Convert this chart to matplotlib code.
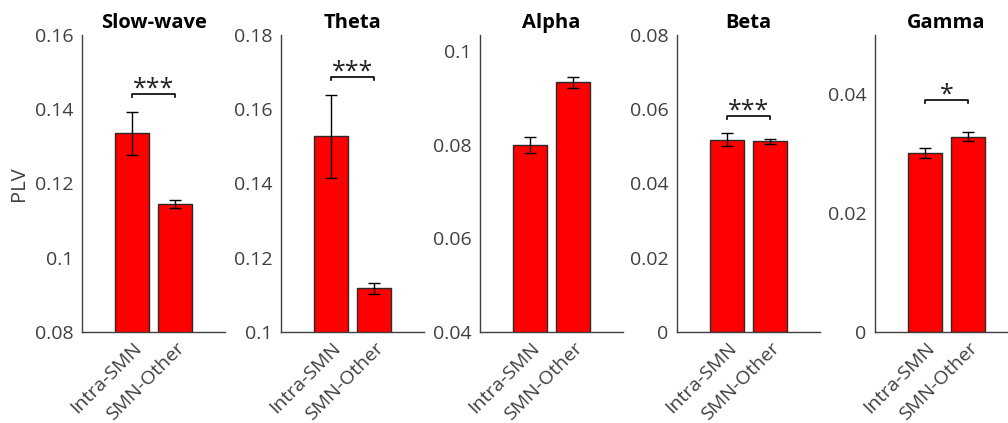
import numpy as np
import matplotlib
matplotlib.use('Agg')
import matplotlib.pyplot as plt

plt.rcParams['font.family'] = ['Open Sans', 'DejaVu Sans']

# 数据
bands = ['Slow-wave', 'Theta', 'Alpha', 'Beta', 'Gamma']
groups = ['Intra-SMN', 'SMN-Other']
intra_mean = [0.1335, 0.1527, 0.0800, 0.0518, 0.0301]
intra_err = [0.0058, 0.0111, 0.0017, 0.0017, 0.0008]
other_mean = [0.1145, 0.1118, 0.0934, 0.0514, 0.0329]
other_err = [0.0011, 0.0015, 0.0012, 0.0007, 0.0008]
ylims = [(0.08, 0.16), (0.1, 0.18), (0.04, 0.1035), (0, 0.08), (0, 0.05)]
yticks = [[0.08, 0.1, 0.12, 0.14, 0.16],
          [0.1, 0.12, 0.14, 0.16, 0.18],
          [0.04, 0.06, 0.08, 0.1],
          [0, 0.02, 0.04, 0.06, 0.08],
          [0, 0.02, 0.04]]
ytick_labels = [['0.08', '0.1', '0.12', '0.14', '0.16'],
                ['0.1', '0.12', '0.14', '0.16', '0.18'],
                ['0.04', '0.06', '0.08', '0.1'],
                ['0', '0.02', '0.04', '0.06', '0.08'],
                ['0', '0.02', '0.04']]
sig_labels = ['***', '***', '', '***', '*']
sig_y = [0.1441, 0.1687, None, 0.0582, 0.0391]

W, H = 1008, 423
fig = plt.figure(figsize=(W / 100, H / 100), dpi=100)
lefts = [82, 281, 480, 677, 875]
grey = '#404040'

for i in range(5):
    ax = fig.add_axes([lefts[i] / W, 91 / H, 143 / W, 297 / H])
    x = np.array([1, 2])
    ax.bar(x, [intra_mean[i], other_mean[i]], width=0.8, color='#ff0000',
           edgecolor='#2a2a2a', linewidth=1.0, zorder=2)
    ax.errorbar(x, [intra_mean[i], other_mean[i]], yerr=[intra_err[i], other_err[i]],
                fmt='none', ecolor='black', elinewidth=1.0, capsize=4, capthick=1.0, zorder=3)
    ax.set_xlim(-0.16, 3.16)
    ax.set_ylim(*ylims[i])
    ax.set_yticks(yticks[i])
    ax.set_yticklabels(ytick_labels[i])
    ax.set_xticks(x)
    ax.set_xticklabels(groups, rotation=45, ha='right', rotation_mode='anchor')
    ax.tick_params(axis='both', length=0, labelsize=14, colors=grey, pad=6)
    ax.tick_params(axis='x', pad=5)
    for s in ['top', 'right']:
        ax.spines[s].set_visible(False)
    for s in ['left', 'bottom']:
        ax.spines[s].set_color(grey)
        ax.spines[s].set_linewidth(1.0)
    ax.set_title(bands[i], fontsize=14.5, fontweight='bold', pad=5)
    if i == 0:
        ax.set_ylabel('PLV', fontsize=14.5, color=grey, labelpad=4)
    if sig_y[i] is not None:
        d = (ylims[i][1] - ylims[i][0]) * 3 / 297
        y = sig_y[i]
        ax.plot([1, 1, 2, 2], [y - d, y, y, y - d], color='black', lw=1.2, clip_on=False)
        ax.annotate(sig_labels[i], (1.5, y), xytext=(0, -1), textcoords='offset points',
                    ha='center', va='baseline', fontsize=18, color='#222222')

fig.savefig('out.png', dpi=100)
